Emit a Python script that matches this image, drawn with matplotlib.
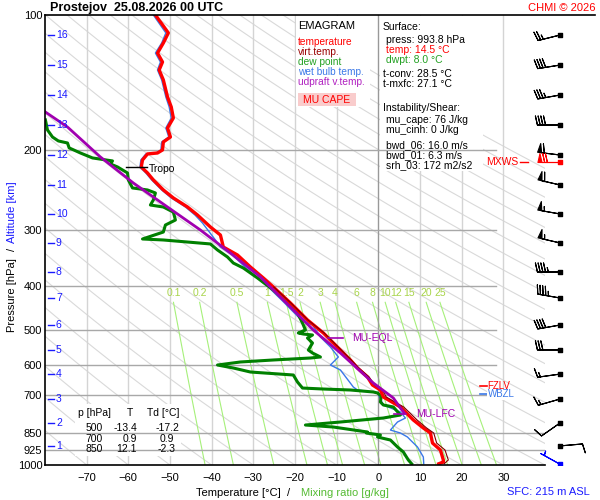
import matplotlib
matplotlib.use("Agg")
import matplotlib.pyplot as plt
import numpy as np
from matplotlib.lines import Line2D
from matplotlib.patches import Rectangle

plt.rcParams["font.family"] = ["Liberation Sans", "DejaVu Sans"]

# --- sounding (pressure hPa, value degC) ---
temp_p = [100, 109.6, 115.4, 121.5, 127.2, 132.5, 139.4, 152.1, 160.1, 169.4, 178.3, 186.7,
          191.5, 199.5, 202.6, 203.6, 210.0, 217.6, 224.4, 232.6, 244.8, 255.0, 267.1, 278.3,
          295.9, 308.3, 327.8, 341.5, 363.1, 384.1, 402.2, 436.5, 476.2, 508.9, 527.6, 555.3,
          584.3, 608.8, 637.5, 664.2, 681.3, 706.1, 743.2, 794.3, 827.6, 849.0, 893.7, 926.1,
          974.7, 984.8, 993.8]
temp_t = [-53.5, -50.4, -51.6, -53.0, -51.8, -52.6, -51.6, -50.6, -49.7, -49.2, -50.6, -49.9,
          -51.6, -51.8, -53.0, -55.4, -56.6, -56.9, -55.4, -54.0, -51.6, -49.2, -45.8, -43.4,
          -40.3, -37.9, -37.2, -33.8, -30.7, -27.6, -25.2, -21.1, -17.0, -13.2, -11.5, -9.1,
          -6.7, -5.0, -2.6, -1.4, 0.5, 1.2, 5.3, 8.4, 10.8, 12.5, 13.0, 14.9,
          15.6, 15.6, 14.5]

virt_p = [402.2, 436.5, 476.2, 508.9, 527.6, 555.3, 584.3, 608.8, 637.5, 664.2, 681.3, 706.1,
          743.2, 794.3, 827.6, 849.0, 893.7, 926.1, 974.7, 993.8]
virt_t = [-25.1, -21.0, -16.9, -13.0, -11.3, -8.9, -6.5, -4.7, -2.2, -0.9, 1.0, 1.9,
          6.1, 9.3, 11.6, 13.3, 14.0, 16.0, 16.8, 15.8]

dew_p = [171.1, 180.1, 186.7, 190.5, 192.5, 197.4, 202.6, 207.8, 211.0, 214.3, 217.6, 224.4,
         232.6, 242.3, 244.8, 248.6, 257.7, 264.4, 267.1, 274.1, 285.5, 292.9, 303.6, 314.6,
         316.2, 322.7, 332.8, 345.0, 355.8, 365.0, 384.1, 408.4, 436.5, 459.5, 483.6, 501.2,
         508.9, 511.6, 514.2, 522.2, 535.7, 555.3, 563.8, 575.4, 578.4, 584.3, 590.3, 599.5,
         608.8, 621.4, 631.0, 654.1, 674.5, 677.9, 681.3, 688.3, 691.8, 702.5, 724.4, 735.6,
         743.2, 774.3, 786.3, 802.5, 815.0, 823.4, 844.7, 849.0, 857.7, 866.6, 880.0, 912.0,
         935.6, 974.7, 993.8]
dew_t = [-79.9, -79.4, -78.2, -76.8, -74.6, -74.2, -71.5, -68.6, -63.8, -64.3, -62.6, -60.2,
         -60.0, -59.0, -55.4, -53.5, -54.0, -54.7, -51.6, -49.2, -48.7, -51.1, -51.6, -56.6,
         -51.6, -40.3, -38.6, -36.2, -34.8, -32.4, -29.0, -25.2, -21.8, -19.4, -18.2, -17.5,
         -19.2, -18.0, -15.8, -17.0, -15.8, -16.8, -15.8, -13.9, -16.3, -25.2, -33.1, -38.6,
         -34.8, -30.7, -20.4, -19.4, -18.2, -13.2, -6.7, -1.2, -0.2, 0.7, 0.5, 1.2,
         3.6, 5.3, 1.2, -9.1, -17.5, -10.8, -2.6, -2.9, 0.5, -0.2, 2.9, 4.6,
         6.0, 7.2, 8.0]

wetb_p = [100, 109.6, 115.4, 121.5, 127.2, 132.5, 139.4, 152.1, 160.1, 169.4, 178.3, 186.7,
          191.5, 199.5, 202.6, 203.6, 210.0, 217.6, 224.4, 232.6, 244.8, 255.0, 267.1, 278.3,
          289.9, 316.2, 327.8, 341.5, 363.1, 384.1, 402.2, 436.5, 476.2, 488.6, 519.5, 546.8,
          575.4, 599.5, 615.0, 671.0, 681.3, 688.3, 691.8, 735.6, 762.4, 786.3, 802.5, 836.2,
          849.0, 866.6, 880.0, 912.0, 959.8, 993.8]
wetb_t = [-54.0, -51.0, -52.0, -53.5, -52.3, -53.0, -52.0, -51.0, -50.2, -49.7, -51.0, -50.3,
          -52.0, -52.2, -53.4, -55.8, -57.0, -57.2, -55.8, -54.4, -52.0, -49.7, -46.3, -44.0,
          -42.2, -39.1, -37.9, -35.0, -32.0, -29.0, -26.4, -22.5, -18.5, -15.8, -13.9, -11.5,
          -9.6, -11.5, -9.1, -6.0, -5.0, -1.2, -0.2, 1.2, 5.3, 6.5, 4.6, 2.9,
          5.3, 7.0, 7.7, 9.4, 10.8, 10.9]

parcel_p = [164.3, 177.4, 206.8, 236.2, 267.1, 300.5, 338.0, 382.2, 501.2, 563.8, 657.4, 709.7,
            747.0, 766.4]
parcel_t = [-79.9, -74.6, -66.7, -58.8, -50.6, -42.7, -35.5, -28.3, -15.6, -9.1, -1.2, 3.6,
            5.3, 6.2]

# --- winds, one barb per km ---
wind_km = [16, 15, 14, 13, 12, 11, 10, 9, 8, 7, 6, 5, 4, 3, 2, 1]
wind_p = [110.8, 129.2, 150.6, 175.6, 204.7, 238.6, 276.8, 321.0, 372.5, 425.5, 488.6, 555.0,
          628.0, 713.5, 806.6, 907.0]
wind_dir = [256, 261, 260, 270, 277, 283, 280, 283, 270, 280, 260, 270, 262, 254, 235, 85]
wind_spd = [25, 40, 35, 40, 60, 60, 55, 55, 45, 45, 40, 30, 15, 15, 10, 10]
sfc_p, sfc_dir, sfc_spd = 993.8, 299, 5
mxws_p, mxws_dir, mxws_spd = 212.1, 270, 70

mix_ratios = [0.1, 0.2, 0.5, 1, 1.5, 2, 3, 4, 6, 8, 10, 12, 15, 20, 25]
p_ticks = [100, 200, 300, 400, 500, 600, 700, 850, 925, 1000]
t_ticks = [-70, -60, -50, -40, -30, -20, -10, 0, 10, 20, 30]

table_rows = [("500", "-13.4", "-17.2"), ("700", "0.9", "0.9"), ("850", "12.1", "-2.3")]

fig = plt.figure(figsize=(6, 5), dpi=100)
ax = fig.add_axes([45 / 600, 35 / 500, 500 / 600, 450 / 500])
ax.set_yscale("log")
ax.set_xlim(-80, 40)
ax.set_ylim(1000, 100)

# dry adiabats
pp = np.logspace(2, 3, 200)
for th in range(-100, 220, 10):
    ax.plot((th + 273.15) * (pp / 1000.0) ** 0.2857 - 273.15, pp, color="#d9d9d9", lw=0.8, zorder=1)

# isotherms
for t in t_ticks:
    ax.axvline(t, color="#999999" if t == 0 else "#d4d4d4", lw=1, zorder=1.5 if t else 3)

# mixing ratio lines
pm = np.linspace(435, 1000, 50)
for w in mix_ratios:
    e = w * pm / (622.0 + w)
    lg = np.log(e / 6.112)
    ax.plot(243.5 * lg / (17.67 - lg), pm, color="#a6f07a", lw=0.8, zorder=1.5)
    ax.text(243.5 * lg[0] / (17.67 - lg[0]), 414, f"{w:g}", color="#a8d44a", fontsize=7.5,
            ha="center", va="center", zorder=1.6)

# isobars
for p in p_ticks[1:-1]:
    ax.plot([-80, 40 if p >= 850 else 28.3], [p, p], color="#a8a8a8", lw=1, zorder=3)

# white info boxes (mask the background grid)
for x0, y0, x1, y1 in [(296, 16, 370, 107), (380, 16, 483, 171), (75, 404, 181, 456)]:
    ax.add_patch(Rectangle((x0 / 600, 1 - y1 / 500), (x1 - x0) / 600, (y1 - y0) / 500,
                           transform=fig.transFigure, facecolor="white", edgecolor="none",
                           zorder=2, clip_on=False))
ax.add_patch(Rectangle((298 / 600, 1 - 106 / 500), 58 / 600, 13 / 500, transform=fig.transFigure,
                       facecolor="#f9cccc", edgecolor="none", zorder=2.5, clip_on=False))

# profiles
ax.plot(wetb_t, wetb_p, color="#3a78e8", lw=1.0, zorder=5)
ax.plot(dew_t, dew_p, color="#008000", lw=2.2, zorder=6)
ax.plot(temp_t, temp_p, color="#ff0000", lw=2.4, zorder=7)
ax.plot(virt_t, virt_p, color="#800000", lw=0.8, zorder=7.5)
ax.plot(parcel_t, parcel_p, color="#a000b0", lw=2.0, zorder=8)

# level annotations
ax.plot([-60.5, -55.4], [217.6, 217.6], color="black", lw=1, zorder=9)
ax.text(-55.0, 219.5, "Tropo", fontsize=7.5, va="center", zorder=9)
ax.plot([-12.2, -8.4], [522, 522], color="#a000b0", lw=1.2, zorder=9)
ax.text(-6.2, 522, "MU-EQL", color="#a000b0", fontsize=7.5, va="center", zorder=9)
ax.plot([3.8, 6.6], [770, 770], color="#a000b0", lw=1.2, zorder=9)
ax.text(9.1, 770, "MU-LFC", color="#a000b0", fontsize=7.5, va="center", zorder=9)
ax.plot([24.5, 26.0], [667.6, 667.6], color="#ff0000", lw=1.2, zorder=9, clip_on=False)
ax.text(26.2, 666.0, "FZLV", color="#ff0000", fontsize=7, va="center", zorder=9, clip_on=False)
ax.plot([24.5, 26.0], [695.3, 695.3], color="#3a78e8", lw=1.2, zorder=9.5, clip_on=False)
ax.text(26.2, 697.0, "WBZL", color="#3a78e8", fontsize=7, va="center", zorder=9.5,
        bbox=dict(facecolor="white", edgecolor="none", pad=0.3))

# km scale
for km, p in zip(wind_km, wind_p):
    ax.plot([0.006, 0.018], [p, p], color="#1a1aff", lw=1, transform=ax.get_yaxis_transform(), zorder=9)
    ax.text(0.022, p, str(km), color="#1a1aff", fontsize=7.5, va="center",
            transform=ax.get_yaxis_transform(), zorder=9)

ax.set_yticks(p_ticks)
ax.set_yticklabels([str(p) for p in p_ticks])
ax.minorticks_off()
ax.set_xticks(t_ticks)
ax.tick_params(axis="both", length=0, labelsize=8)
ax.tick_params(axis="x", pad=6)
ax.tick_params(axis="y", pad=2)
for side in ("top", "right"):
    ax.spines[side].set_visible(False)
for side in ("left", "bottom"):
    ax.spines[side].set_linewidth(1.2)
    ax.spines[side].set_zorder(10)
fig.add_artist(Line2D([45 / 600, 595 / 600], [485 / 500, 485 / 500], color="black", lw=1.2))

# wind barbs panel
bax = fig.add_axes([500 / 600, 35 / 500, 100 / 600, 450 / 500])
bax.set_yscale("log")
bax.set_ylim(1000, 100)
bax.set_xlim(0, 100)
bax.axis("off")
bax.patch.set_alpha(0)


def uv(d, s):
    r = np.radians(d)
    return -s * np.sin(r), -s * np.cos(r)


blen = 5.7
sizes = dict(spacing=0.12, height=0.4, width=0.18)
u, v = uv(np.array(wind_dir), np.array(wind_spd))
bax.barbs(np.full(len(wind_p), 60), wind_p, u, v, length=blen, sizes=sizes, lw=0.8, color="black")
bax.scatter(np.full(len(wind_p), 60), wind_p, marker="s", s=5, color="black", zorder=5)
mu, mv = uv(mxws_dir, mxws_spd)
bax.barbs([60], [mxws_p], [mu], [mv], length=blen, sizes=sizes, lw=0.8, color="#ff0000")
bax.scatter([60], [mxws_p], marker="s", s=5, color="#ff0000", zorder=5)
bax.plot([20, 28], [mxws_p, mxws_p], color="#ff0000", lw=1)
bax.text(18, mxws_p, "MXWS", color="#ff0000", fontsize=7.5, ha="right", va="center")
su, sv = uv(sfc_dir, sfc_spd)
bax.barbs([60], [sfc_p], [su], [sv], length=blen, sizes=sizes, lw=0.8, color="#0000ff")
bax.scatter([60], [sfc_p], marker="s", s=5, color="#0000ff", zorder=5)


def ftext(x, y, s, **kw):
    kw.setdefault("va", "center")
    kw.setdefault("fontsize", 7.5)
    fig.text(x / 600, 1 - y / 500, s, **kw)


ftext(50, 8, "Prostejov  25.08.2026 00 UTC", fontsize=9, fontweight="bold")
ftext(596, 8, "CHMI \u00a9 2026", color="#ff0000", fontsize=8, ha="right")

# legend
ftext(298, 26, "EMAGRAM", fontsize=8)
legend_items = [("temperature", "#ff0000"), ("virt.temp.", "#990000"), ("dew point", "#22a022"),
                ("wet bulb temp.", "#3a78e8"), ("udpraft v.temp.", "#b020c0")]
for i, (name, col) in enumerate(legend_items):
    ftext(298, 42 + 10 * i, name, color=col, fontsize=7.3)
ftext(327, 100, "MU CAPE", color="#ff0000", fontsize=7.5, ha="center")

# surface / instability box
ftext(383, 27.5, "Surface:")
ftext(386, 40, "press: 993.8 hPa")
ftext(386, 50, "temp: 14.5 \u00b0C", color="#ff0000")
ftext(386, 60, "dwpt: 8.0 \u00b0C", color="#22a022")
ftext(383, 74, "t-conv: 28.5 \u00b0C")
ftext(383, 84, "t-mxfc: 27.1 \u00b0C")
ftext(383, 108, "Instability/Shear:")
ftext(386, 120, "mu_cape: 76 J/kg")
ftext(386, 130, "mu_cinh: 0 J/kg")
ftext(386, 145, "bwd_06: 16.0 m/s")
ftext(386, 155, "bwd_01: 6.3 m/s")
ftext(386, 165, "srh_03: 172 m2/s2")

# small table
ftext(78, 413, "p [hPa]")
ftext(130, 413, "T", ha="center")
ftext(147, 413, "Td [\u00b0C]")
for i, (p, t, td) in enumerate(table_rows):
    y = 428 + 10.5 * i
    ftext(103, y, p, ha="right")
    ftext(137, y, t, ha="right")
    ftext(167, y, td, ha="center")

# axis titles
ftext(12, 295, "Pressure [hPa]", fontsize=8, rotation=90, ha="center")
ftext(12, 249, "/", fontsize=8, rotation=90, ha="center")
ftext(12, 212, "Altitude [km]", fontsize=8, color="#1a1aff", rotation=90, ha="center")
ftext(238, 493, "Temperature [\u00b0C]", fontsize=8, ha="center")
ftext(289, 493, "/", fontsize=8, ha="center")
ftext(345, 493, "Mixing ratio [g/kg]", fontsize=8, color="#55bb33", ha="center")
ftext(590, 492, "SFC: 215 m ASL", fontsize=8, color="#1a1aff", ha="right")

fig.savefig("out.png", dpi=100)
